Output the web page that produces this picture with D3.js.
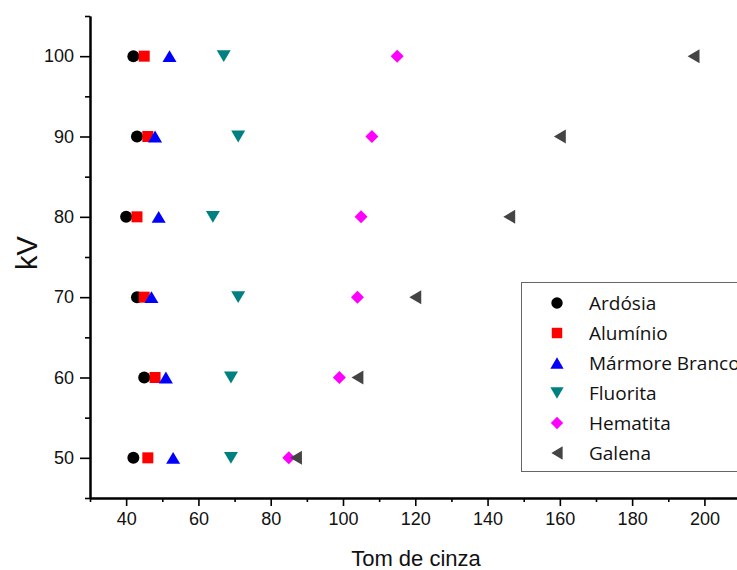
<!DOCTYPE html>
<html>
<head>
<meta charset="utf-8">
<script src="https://cdn.jsdelivr.net/npm/d3@7"></script>
<style>
  html, body { margin: 0; padding: 0; background: #fff; }
  svg { display: block; }
</style>
</head>
<body>
<svg id="chart" width="737" height="570"></svg>
<script>
// ---- data ----
const kV = [50, 60, 70, 80, 90, 100];
const seriesNames = ["Ardósia", "Alumínio", "Mármore Branco", "Fluorita", "Hematita", "Galena"];
const ardosia   = [42, 45, 43, 40, 43, 42];
const aluminio  = [46, 48, 45, 43, 46, 45];
const marmore   = [53, 51, 47, 49, 48, 52];
const fluorita  = [69, 69, 71, 64, 71, 67];
const hematita  = [85, 99, 104, 105, 108, 115];
const galena    = [87, 104, 120, 146, 160, 197];
const xTicks = [40, 60, 80, 100, 120, 140, 160, 180, 200];
const yTicks = [50, 60, 70, 80, 90, 100];

// ---- styles ----
const colors = ["#000000", "#ff0000", "#0000ff", "#008080", "#ff00ff", "#444444"];

// custom symbol shapes (bounding-box centred)
const triUp = { draw(ctx, s) { const w = Math.sqrt(s), h = w * 0.85; ctx.moveTo(0, -h/2); ctx.lineTo(w/2, h/2); ctx.lineTo(-w/2, h/2); ctx.closePath(); } };
const triDown = { draw(ctx, s) { const w = Math.sqrt(s), h = w * 0.85; ctx.moveTo(0, h/2); ctx.lineTo(w/2, -h/2); ctx.lineTo(-w/2, -h/2); ctx.closePath(); } };
const triLeft = { draw(ctx, s) { const w = Math.sqrt(s), h = w * 0.85; ctx.moveTo(-h/2, 0); ctx.lineTo(h/2, -w/2); ctx.lineTo(h/2, w/2); ctx.closePath(); } };
const diamond = { draw(ctx, s) { const r = Math.sqrt(s) / 2; ctx.moveTo(0, -r); ctx.lineTo(r, 0); ctx.lineTo(0, r); ctx.lineTo(-r, 0); ctx.closePath(); } };
const square = { draw(ctx, s) { const r = Math.sqrt(s) / 2; ctx.rect(-r, -r, 2*r, 2*r); } };
const circle = { draw(ctx, s) { const r = Math.sqrt(s) / 2; ctx.moveTo(r, 0); ctx.arc(0, 0, r, 0, 2*Math.PI); } };
const shapes = [circle, square, triUp, triDown, diamond, triLeft];
const sizes  = [12*12, 11*11, 14*14, 14*14, 13*13, 14*14];

const allSeries = [ardosia, aluminio, marmore, fluorita, hematita, galena];

const svg = d3.select("#chart");
const x = d3.scaleLinear().domain([30, 220]).range([90, 776.7]);
const y = d3.scaleLinear().domain([45, 105]).range([498, 16]);

// ---- axes ----
const xMinor = d3.range(30, 221, 10).filter(v => v % 20 !== 0);
const yMinor = d3.range(45, 106, 10);

const gx = svg.append("g").attr("transform", "translate(0,498)");
gx.call(d3.axisBottom(x).tickValues(xTicks).tickSize(8).tickSizeOuter(0).tickPadding(6));
gx.append("g").call(d3.axisBottom(x).tickValues(xMinor).tickSize(4).tickSizeOuter(0).tickFormat(""));

const gy = svg.append("g").attr("transform", "translate(90,0)");
gy.call(d3.axisLeft(y).tickValues(yTicks).tickSize(10).tickSizeOuter(0).tickPadding(6));
gy.append("g").call(d3.axisLeft(y).tickValues(yMinor).tickSize(5).tickSizeOuter(0).tickFormat(""));

svg.selectAll(".domain").attr("stroke", "#000").attr("stroke-width", 2);
svg.selectAll(".tick line").attr("stroke", "#000").attr("stroke-width", 1.6);
svg.selectAll(".tick text").attr("font-family", "'Liberation Sans', Arial, sans-serif").attr("font-size", 18).attr("fill", "#111");

// axis titles
svg.append("text")
  .attr("transform", "translate(37,253) rotate(-90)")
  .attr("text-anchor", "middle")
  .attr("font-family", "'Liberation Sans', Arial, sans-serif")
  .attr("font-size", 29).attr("fill", "#111")
  .text("kV");
svg.append("text")
  .attr("x", 416).attr("y", 566)
  .attr("text-anchor", "middle")
  .attr("font-family", "'Liberation Sans', Arial, sans-serif")
  .attr("font-size", 22).attr("fill", "#111")
  .text("Tom de cinza");

// ---- points ----
const plot = svg.append("g");
allSeries.forEach((vals, si) => {
  const sym = d3.symbol().type(shapes[si]).size(sizes[si]);
  plot.append("g").selectAll("path")
    .data(vals.map((v, i) => ({ x: v, y: kV[i] })))
    .join("path")
    .attr("d", sym)
    .attr("transform", d => `translate(${x(d.x)},${y(d.y)})`)
    .attr("fill", colors[si]);
});

// ---- legend ----
const lg = svg.append("g");
lg.append("rect")
  .attr("x", 521.5).attr("y", 282.5).attr("width", 240).attr("height", 189)
  .attr("fill", "#fff").attr("stroke", "#666").attr("stroke-width", 1);
seriesNames.forEach((name, si) => {
  const ly = 303 + si * 30;
  const sym = d3.symbol().type(shapes[si]).size(sizes[si] * 0.9);
  lg.append("path").attr("d", sym).attr("transform", `translate(557,${ly})`).attr("fill", colors[si]);
  lg.append("text")
    .attr("x", 589).attr("y", ly).attr("dy", "0.36em")
    .attr("font-family", "'Open Sans', sans-serif")
    .attr("font-size", 19).attr("fill", "#111")
    .text(name);
});
</script>
</body>
</html>
